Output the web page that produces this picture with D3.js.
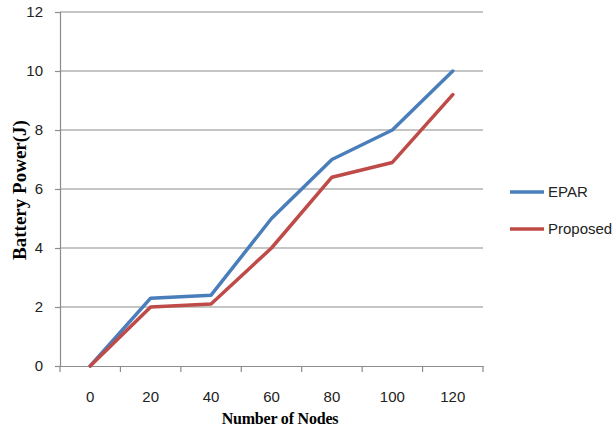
<!DOCTYPE html>
<html><head><meta charset="utf-8">
<script src="https://cdn.jsdelivr.net/npm/d3@7"></script>
<style>body{margin:0;background:#fff;}svg{display:block;}</style>
</head><body>
<svg id="chart" width="614" height="433"></svg>
<script>
const categories = ["0","20","40","60","80","100","120"];
const epar = [0, 2.3, 2.4, 5.0, 7.0, 8.0, 10.0];
const proposed = [0, 2.0, 2.1, 4.0, 6.4, 6.9, 9.2];
const yTicks = [0,2,4,6,8,10,12];
const seriesNames = ["EPAR","Proposed"];
const seriesColors = ["#4A7EBB","#BE4B48"];

const svg = d3.select("#chart");
const pLeft = 60, pRight = 483, pTop = 12, pBottom = 366;

const x = d3.scaleBand().domain(categories).range([pLeft, pRight]);
const y = d3.scaleLinear().domain([0,12]).range([pBottom, pTop]);

// grid
svg.append("g").selectAll("line").data(yTicks.filter(d=>d>0)).join("line")
  .attr("x1", pLeft).attr("x2", pRight)
  .attr("y1", d=>y(d)).attr("y2", d=>y(d))
  .attr("stroke", "#8c8c8c").attr("stroke-width", 1.2);

// y axis
const yAxis = svg.append("g").attr("transform", `translate(${pLeft},0)`)
  .call(d3.axisLeft(y).tickValues(yTicks).tickSize(5).tickPadding(12));
yAxis.select(".domain").attr("stroke", "#8c8c8c").attr("stroke-width", 1.2);
yAxis.selectAll(".tick line").attr("stroke", "#8c8c8c").attr("stroke-width", 1.2);
yAxis.selectAll("text").attr("font-family", "Liberation Sans, Arial, sans-serif")
  .attr("font-size", 15).attr("fill", "#222");

// x axis
const xAxis = svg.append("g").attr("transform", `translate(0,${pBottom})`)
  .call(d3.axisBottom(x).tickSize(0).tickPadding(25));
xAxis.select(".domain").attr("stroke", "#8c8c8c").attr("stroke-width", 1.2);
xAxis.selectAll("text").attr("font-family", "Liberation Sans, Arial, sans-serif")
  .attr("font-size", 15).attr("fill", "#222");
// boundary tick marks between categories
const bounds = categories.map(c => x(c)).concat([pRight]);
svg.append("g").selectAll("line").data(bounds).join("line")
  .attr("x1", d=>d).attr("x2", d=>d).attr("y1", pBottom).attr("y2", pBottom+6)
  .attr("stroke", "#8c8c8c").attr("stroke-width", 1.2);

// lines
const line = d3.line().x((d,i)=>x(categories[i]) + x.bandwidth()/2).y(d=>y(d));
[epar, proposed].forEach((s, i) => {
  svg.append("path").datum(s).attr("d", line)
    .attr("fill", "none").attr("stroke", seriesColors[i])
    .attr("stroke-width", 3.5).attr("stroke-linejoin", "round").attr("stroke-linecap", "round");
});

// legend
const legY = [192, 229];
seriesNames.forEach((n, i) => {
  svg.append("line").attr("x1", 510).attr("x2", 544).attr("y1", legY[i]).attr("y2", legY[i])
    .attr("stroke", seriesColors[i]).attr("stroke-width", 3.5);
  svg.append("text").attr("x", 548).attr("y", legY[i]).attr("dy", "0.35em")
    .attr("font-family", "Liberation Sans, Arial, sans-serif").attr("font-size", 15)
    .attr("fill", "#222").text(n);
});

// axis titles
svg.append("text").attr("x", 280).attr("y", 424).attr("text-anchor", "middle")
  .attr("font-family", "Liberation Serif, Times New Roman, serif").attr("font-weight", "bold")
  .attr("font-size", 16).attr("letter-spacing", -0.2).text("Number of Nodes");
svg.append("text").attr("transform", "translate(26,190) rotate(-90)").attr("text-anchor", "middle")
  .attr("font-family", "Liberation Serif, Times New Roman, serif").attr("font-weight", "bold")
  .attr("font-size", 19).text("Battery Power(J)");
</script>
</body></html>
